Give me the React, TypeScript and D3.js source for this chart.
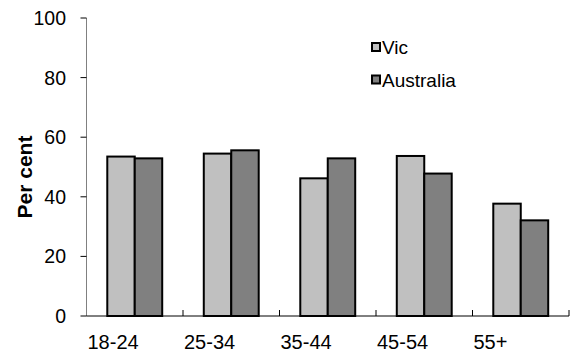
import React from "react";
import * as d3 from "d3";

const categories = ["18-24", "25-34", "35-44", "45-54", "55+"];
const seriesNames = ["Vic", "Australia"];
const vicValues = [53.5, 54.5, 46.2, 53.7, 37.7];
const ausValues = [52.9, 55.6, 52.9, 47.8, 32.1];
const yTicks = [0, 20, 40, 60, 80, 100];
const colors = ["#C0C0C0", "#808080"];

const W = 573;
const H = 358;
const left = 86.5;
const right = 569;
const top = 18;
const bottom = 316;

export default function App() {
  const x0 = d3.scaleBand<string>().domain(categories).range([left, right]).padding(0);
  const x1 = d3
    .scaleBand<string>()
    .domain(seriesNames)
    .range([0, x0.bandwidth()])
    .paddingInner(0)
    .paddingOuter(0.757);
  const y = d3.scaleLinear().domain([0, 100]).range([bottom, top]);
  const series = [vicValues, ausValues];
  const font = "Arial, 'Liberation Sans', Helvetica, sans-serif";

  return (
    <svg
      width={W}
      height={H}
      style={{ position: "absolute", left: 0, top: 0, background: "#fff" }}
      fontFamily={font}
    >
      {/* bars */}
      {categories.map((c, i) => (
        <g key={c}>
          {series.map((vals, s) => (
            <rect
              key={s}
              x={(x0(c) as number) + (x1(seriesNames[s]) as number)}
              y={y(vals[i])}
              width={x1.bandwidth()}
              height={bottom - y(vals[i])}
              fill={colors[s]}
              stroke="#000"
              strokeWidth={2}
            />
          ))}
        </g>
      ))}
      {/* y axis */}
      <line x1={left} x2={left} y1={top} y2={bottom} stroke="#808080" strokeWidth={1} />
      {yTicks.map((t) => (
        <g key={t}>
          <line x1={left - 6} x2={left} y1={y(t)} y2={y(t)} stroke="#000" strokeWidth={1} />
          <text x={66} y={y(t)} dy="0.36em" textAnchor="end" fontSize={19.5} fill="#000">
            {t}
          </text>
        </g>
      ))}
      {/* x axis */}
      <line x1={left} x2={right} y1={bottom} y2={bottom} stroke="#000" strokeWidth={1} />
      {categories.map((c) => (
        <line
          key={c}
          x1={(x0(c) as number) + x0.bandwidth()}
          x2={(x0(c) as number) + x0.bandwidth()}
          y1={bottom}
          y2={bottom - 6}
          stroke="#000"
          strokeWidth={1}
        />
      ))}
      {categories.map((c) => (
        <text key={c} x={(x0(c) as number) + 1} y={349} fontSize={20} fill="#000">
          {c}
        </text>
      ))}
      {/* y label */}
      <text
        transform={`translate(31.5,177) rotate(-90)`}
        textAnchor="middle"
        fontSize={21}
        fontWeight="bold"
        fill="#000"
      >
        Per cent
      </text>
      {/* legend */}
      {seriesNames.map((n, s) => (
        <g key={n} transform={`translate(372,${43 + s * 32.5})`}>
          <rect x={0} y={0} width={8} height={8} fill={colors[s]} stroke="#000" strokeWidth={2} />
          <text x={10} y={11} fontSize={19} fill="#000">
            {n}
          </text>
        </g>
      ))}
    </svg>
  );
}
